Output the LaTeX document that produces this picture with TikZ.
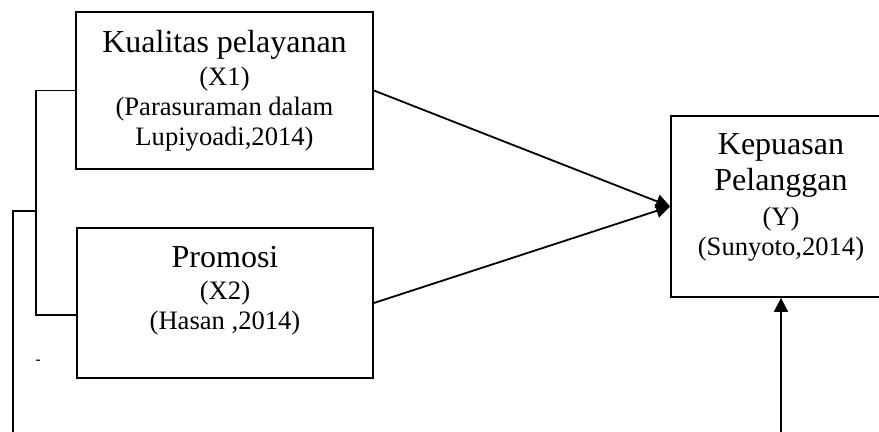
\documentclass[tikz,border=0pt]{standalone}
\usepackage{fontspec}
\setmainfont{Liberation Serif}
\usepackage{tikz}
\usetikzlibrary{arrows.meta,positioning}

\newcommand{\bigtxt}{\fontsize{16}{18}\selectfont}
\newcommand{\smltxt}{\fontsize{13.3}{15}\selectfont}

\begin{document}
\begin{tikzpicture}[x=0.5pt,y=-0.5pt]
	\tikzset{box/.style={draw,line width=0.9pt,rectangle,inner sep=0pt},
		txt/.style={align=center,inner sep=0pt,font=\smltxt},
		arr/.style={line width=0.9pt,-{Triangle[length=7pt,width=7pt]}}}
	\useasboundingbox (0,0) rectangle (879,432);
	\node[box,minimum width=148.5pt,minimum height=78.5pt] (kp) at (224.5,90.5) {};
	\node[box,minimum width=148pt,minimum height=75pt] (pr) at (225,303) {};
	\node[box,minimum width=110pt,minimum height=90.5pt] (kep) at (781,206.5) {};
	\node[txt] (kpt) at (224.5,91) {{\bigtxt Kualitas pelayanan}\\[1.5pt](X1)\\(Parasuraman dalam\\Lupiyoadi,2014)};
	\node[txt] (prt) at (225,291) {{\bigtxt Promosi}\\[1pt](X2)\\(Hasan ,2014)};
	\node[txt] (kept) at (781,197.5) {{\bigtxt Kepuasan}\\[3pt]{\bigtxt Pelanggan}\\[2.5pt](Y)\\(Sunyoto,2014)};
	\node[inner sep=0pt,font=\fontsize{8}{8}\selectfont] (dot) at (38,362) {-};
	\coordinate (brk) at (36,211);
	\coordinate (lft) at (13,432);
	\coordinate (bot) at (781,432);
	\draw[line width=0.9pt] (kp.west) -| (brk) |- ([yshift=-6pt]pr.west);
	\draw[line width=0.9pt] (brk) -| (lft);
	\draw[arr] (kp.east) -- (kep.west);
	\draw[arr] (pr.east) -- (kep.west);
	\draw[arr] (bot) -- (bot |- kep.south);
\end{tikzpicture}
\end{document}
